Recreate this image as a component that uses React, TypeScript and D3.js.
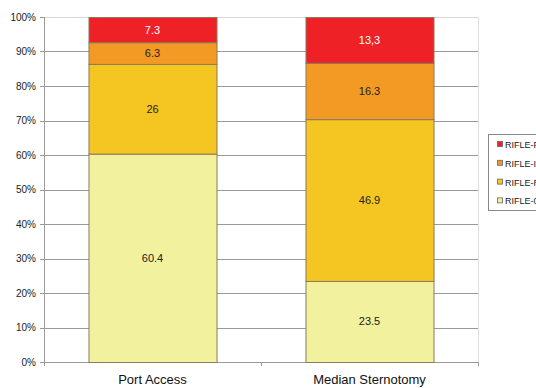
import React from "react";
import * as d3 from "d3";

const categories = ["Port Access", "Median Sternotomy"];
const seriesNames = ["RIFLE-0", "RIFLE-R", "RIFLE-I", "RIFLE-F"];
const rifle0 = [60.4, 23.5];
const rifleR = [26, 46.9];
const rifleI = [6.3, 16.3];
const rifleF = [7.3, 13.3];
const labels0 = ["60.4", "23.5"];
const labelsR = ["26", "46.9"];
const labelsI = ["6.3", "16.3"];
const labelsF = ["7.3", "13,3"];
const yTicks = [0, 10, 20, 30, 40, 50, 60, 70, 80, 90, 100];

const colors = ["#F2F19D", "#F5C522", "#F39A24", "#EE2226"];
const labelColors = ["#222", "#222", "#222", "#fff"];

export default function App() {
  const W = 536, H = 388;
  const left = 44, right = 478, top = 17, bottom = 362;
  const x = d3.scaleBand().domain(categories).range([left, right]).paddingInner(0.41).paddingOuter(0.205);
  const y = d3.scaleLinear().domain([0, 100]).range([bottom, top]);
  const seriesVals = [rifle0, rifleR, rifleI, rifleF];
  const seriesLabels = [labels0, labelsR, labelsI, labelsF];
  const table = categories.map((c, i) => {
    const o: any = { cat: c };
    seriesNames.forEach((s, k) => (o[s] = seriesVals[k][i]));
    return o;
  });
  const stacked = d3.stack().keys(seriesNames)(table);
  const font = "Liberation Sans, Arial, sans-serif";
  const legendItems = [3, 2, 1, 0];
  const legendDisplay = ["RIFLE-F", "RIFLE-I", "RIFLE-R", "RIFLE-0"];
  return (
    <svg width={W} height={H} style={{ position: "absolute", left: 0, top: 0 }} fontFamily={font}>
      <rect x={0} y={0} width={W} height={H} fill="#fff" />
      {/* plot border */}
      <line x1={left} x2={right} y1={top + 0.5} y2={top + 0.5} stroke="#d8d8d8" />
      <line x1={right + 0.5} x2={right + 0.5} y1={top} y2={bottom} stroke="#e0e0e0" />
      {/* grid */}
      {yTicks.map((t) => (
        <g key={t}>
          {t > 0 && t < 100 && (
            <line x1={left} x2={right} y1={Math.round(y(t)) + 0.5} y2={Math.round(y(t)) + 0.5} stroke="#9a9a9a" />
          )}
          <line x1={left - 4} x2={left} y1={Math.round(y(t)) + 0.5} y2={Math.round(y(t)) + 0.5} stroke="#9a9a9a" />
          <text x={36} y={y(t) + 3.5} fontSize={10} textAnchor="end" fill="#222">
            {t}%
          </text>
        </g>
      ))}
      {/* axes */}
      <line x1={left + 0.5} x2={left + 0.5} y1={top} y2={bottom + 4} stroke="#9a9a9a" />
      <line x1={left - 4} x2={right} y1={bottom + 0.5} y2={bottom + 0.5} stroke="#9a9a9a" />
      {[left, (left + right) / 2, right].map((tx, i) => (
        <line key={i} x1={Math.round(tx) + 0.5} x2={Math.round(tx) + 0.5} y1={bottom} y2={bottom + 4} stroke="#9a9a9a" />
      ))}
      {/* bars */}
      {stacked.map((layer, k) => (
        <g key={layer.key}>
          {layer.map((d, i) => {
            const bx = x(categories[i])!;
            const y0 = y(d[1]);
            const y1 = y(d[0]);
            return (
              <g key={i}>
                <rect x={bx + 0.5} y={y0 + 0.5} width={x.bandwidth()} height={y1 - y0} fill={colors[k]} stroke="#8a7c5e" strokeWidth={1} />
                <text x={bx + x.bandwidth() / 2} y={(y0 + y1) / 2 + 4} fontSize={11} textAnchor="middle" fill={labelColors[k]}>
                  {seriesLabels[k][i]}
                </text>
              </g>
            );
          })}
        </g>
      ))}
      {/* x labels */}
      {categories.map((c) => (
        <text key={c} x={x(c)! + x.bandwidth() / 2} y={384} fontSize={13} textAnchor="middle" fill="#111">
          {c}
        </text>
      ))}
      {/* legend */}
      <rect x={488.5} y={134.5} width={60} height={76} fill="#fff" stroke="#888" />
      {legendItems.map((k, j) => (
        <g key={k}>
          <rect x={497.5} y={141.5 + j * 18.8} width={5} height={5} fill={colors[k]} stroke="#666" strokeWidth={0.8} />
          <text x={505} y={148 + j * 18.8} fontSize={9} fill="#222">
            {legendDisplay[j]}
          </text>
        </g>
      ))}
    </svg>
  );
}
